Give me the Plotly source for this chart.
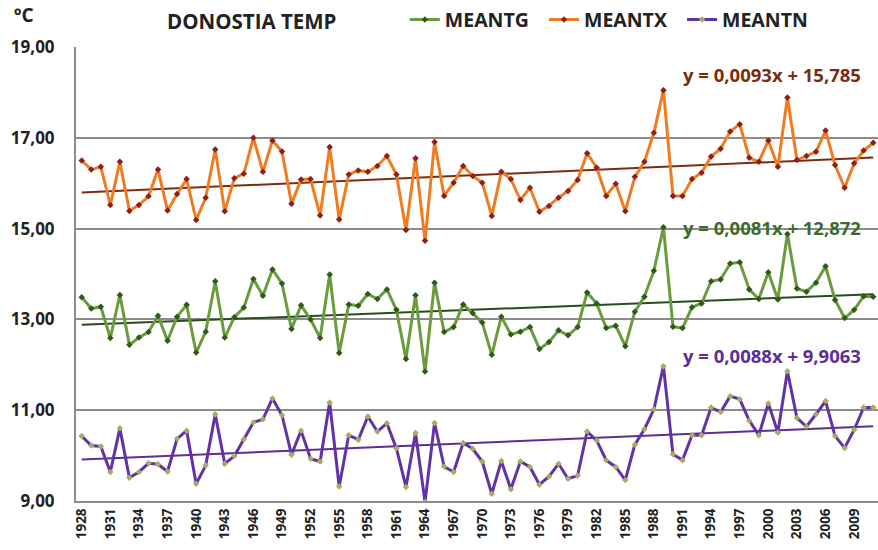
import plotly.graph_objects as go

# Annual mean temperatures, Donostia (ºC)
years = list(range(1928, 2012))

meantx = [16.50, 16.30, 16.36, 15.52, 16.47, 15.39, 15.52, 15.71, 16.30, 15.40,
          15.76, 16.09, 15.19, 15.68, 16.74, 15.38, 16.11, 16.21, 17.00, 16.25,
          16.94, 16.70, 15.55, 16.08, 16.09, 15.29, 16.80, 15.20, 16.19, 16.28,
          16.25, 16.38, 16.60, 16.19, 14.97, 16.55, 14.73, 16.91, 15.72, 16.01,
          16.38, 16.16, 16.01, 15.28, 16.25, 16.09, 15.63, 15.90, 15.37, 15.50,
          15.68, 15.83, 16.07, 16.66, 16.34, 15.72, 15.99, 15.38, 16.14, 16.47,
          17.11, 18.05, 15.72, 15.72, 16.09, 16.23, 16.59, 16.76, 17.14, 17.30,
          16.56, 16.47, 16.94, 16.36, 17.89, 16.51, 16.60, 16.69, 17.16, 16.40,
          15.90, 16.44, 16.72, 16.89]

meantg = [13.49, 13.24, 13.28, 12.59, 13.54, 12.44, 12.60, 12.72, 13.08, 12.53,
          13.06, 13.32, 12.27, 12.73, 13.84, 12.60, 13.05, 13.26, 13.89, 13.52,
          14.10, 13.79, 12.79, 13.31, 13.00, 12.59, 13.99, 12.26, 13.33, 13.30,
          13.56, 13.45, 13.66, 13.21, 12.13, 13.53, 11.85, 13.81, 12.72, 12.83,
          13.33, 13.14, 12.93, 12.22, 13.06, 12.67, 12.73, 12.83, 12.35, 12.50,
          12.76, 12.65, 12.83, 13.59, 13.35, 12.81, 12.86, 12.41, 13.17, 13.50,
          14.07, 15.03, 12.84, 12.81, 13.27, 13.35, 13.84, 13.88, 14.23, 14.26,
          13.66, 13.45, 14.04, 13.44, 14.88, 13.68, 13.61, 13.81, 14.17, 13.43,
          13.03, 13.21, 13.51, 13.50]

meantn = [10.43, 10.22, 10.20, 9.64, 10.60, 9.51, 9.64, 9.83, 9.81, 9.65,
          10.37, 10.55, 9.38, 9.78, 10.91, 9.82, 9.99, 10.36, 10.73, 10.80,
          11.26, 10.89, 10.02, 10.55, 9.93, 9.87, 11.17, 9.32, 10.45, 10.35,
          10.86, 10.53, 10.71, 10.16, 9.31, 10.50, 8.98, 10.72, 9.76, 9.64,
          10.28, 10.15, 9.87, 9.16, 9.88, 9.26, 9.87, 9.75, 9.36, 9.54,
          9.82, 9.49, 9.56, 10.53, 10.33, 9.90, 9.75, 9.46, 10.24, 10.58,
          11.02, 11.97, 10.03, 9.90, 10.45, 10.45, 11.06, 10.96, 11.31, 11.24,
          10.77, 10.45, 11.15, 10.51, 11.86, 10.83, 10.64, 10.91, 11.20, 10.43,
          10.17, 10.57, 11.06, 11.06]

# Linear trends (x = position of the year in the series, starting at 1)
trend_tx = (0.0093, 15.785)
trend_tg = (0.0081, 12.872)
trend_tn = (0.0088, 9.9063)

y_ticks = [9, 11, 13, 15, 17, 19]
x_ticks = list(range(1928, 2012, 3))


def trend(coefs):
    slope, intercept = coefs
    return [slope * (i + 1) + intercept for i in range(len(years))]


def eq_text(coefs):
    slope, intercept = coefs
    s = f"{slope:.4f}".replace(".", ",")
    b = f"{intercept:g}".replace(".", ",")
    return f"y = {s}x + {b}"


series = [
    ("MEANTG", meantg, "#6a9b3c", "#2f5a1a", trend_tg, "#274d1c"),
    ("MEANTX", meantx, "#f07c22", "#8e1f1a", trend_tx, "#7a2c0c"),
    ("MEANTN", meantn, "#6232a6", "#a6ad62", trend_tn, "#5b2e98"),
]

fig = go.Figure()

for name, vals, lc, mc, coefs, tc in series:
    fig.add_trace(go.Scatter(
        x=years, y=trend(coefs), mode="lines",
        line=dict(color=tc, width=2), showlegend=False, hoverinfo="skip"))

for name, vals, lc, mc, coefs, tc in series:
    fig.add_trace(go.Scatter(
        x=years, y=vals, mode="lines+markers",
        name=f"<b>{name}</b>\u00a0\u00a0",
        line=dict(color=lc, width=3),
        marker=dict(symbol="diamond", size=5, color=mc)))

font_family = "'Open Sans', sans-serif"

fig.update_layout(
    width=878, height=550,
    margin=dict(l=76, r=0, t=45, b=49),
    paper_bgcolor="white", plot_bgcolor="white",
    separators=",.",
    font=dict(family=font_family, color="#222222"),
    xaxis=dict(
        range=[1927.4, 2011.5], tickmode="array", tickvals=x_ticks,
        ticktext=[str(t) for t in x_ticks], tickangle=-90,
        tickfont=dict(size=13.5, color="#222222", family=font_family, weight="bold"),
        showgrid=False, showline=True, linecolor="#8c8c8c", linewidth=2,
        ticks="", zeroline=False),
    yaxis=dict(
        range=[9, 19], tickmode="array", tickvals=y_ticks, tickformat=".2f",
        tickfont=dict(size=17, color="#222222", family=font_family, weight="bold"),
        showgrid=True, gridcolor="#8c8c8c", gridwidth=1.5,
        showline=True, linecolor="#8c8c8c", linewidth=2,
        ticks="", ticklabelstandoff=16, zeroline=False),
    legend=dict(
        orientation="h", x=0.41, y=1.06, xanchor="left", yanchor="middle",
        font=dict(size=19.5, color="#222222", family=font_family),
        bgcolor="rgba(0,0,0,0)", itemwidth=30, tracegroupgap=0),
    showlegend=True,
)

# Chart title and unit label
fig.add_annotation(text="<b>ºC</b>", x=-0.065, y=1.07, xref="paper", yref="paper",
                   xanchor="center", yanchor="middle", showarrow=False,
                   font=dict(size=19, color="#222222", family=font_family))
fig.add_annotation(text="<b>DONOSTIA TEMP</b>", x=0.111, y=1.058, xref="paper", yref="paper",
                   xanchor="left", yanchor="middle", showarrow=False,
                   font=dict(size=20.5, color="#222222", family=font_family))

# Trend equations
eq_pos = [(trend_tx, "#7a2c0c", 18.39), (trend_tg, "#3d6b2a", 15.02), (trend_tn, "#5b2e98", 12.2)]
for coefs, col, yv in eq_pos:
    fig.add_annotation(text=f"<b>{eq_text(coefs)}</b>", x=2009.9, y=yv, xref="x", yref="y",
                       xanchor="right", yanchor="middle", showarrow=False,
                       font=dict(size=18.5, color=col, family=font_family))

fig.write_html("out.html")
